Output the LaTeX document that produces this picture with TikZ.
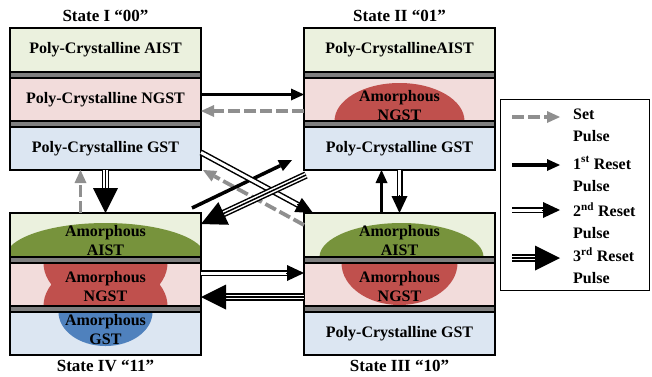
\documentclass[tikz,border=0pt]{standalone}
\usepackage{fontspec}
\setmainfont{Liberation Serif}
\usetikzlibrary{positioning,calc,arrows.meta}

\definecolor{aistbg}{HTML}{EBF1DE}
\definecolor{ngstbg}{HTML}{F2DCDB}
\definecolor{gstbg}{HTML}{DCE6F2}
\definecolor{amgreen}{HTML}{77933C}
\definecolor{amred}{HTML}{C0504D}
\definecolor{amblue}{HTML}{4F81BD}
\definecolor{sepgray}{HTML}{7F7F7F}
\definecolor{setgray}{HTML}{8F8F8F}

\tikzset{
  slab/.style={draw, line width=1.1pt, minimum width=191pt, inner sep=0pt, outer sep=0pt,
    font=\bfseries\fontsize{16}{19}\selectfont, align=center},
  aist/.style={slab, fill=aistbg, minimum height=44pt},
  ngst/.style={slab, fill=ngstbg, minimum height=43pt},
  gst/.style={slab, fill=gstbg, minimum height=43pt},
  sepbar/.style={slab, fill=sepgray, minimum height=6pt, line width=1.4pt},
  txt/.style={font=\bfseries\fontsize{16}{19}\selectfont, align=center, inner sep=0pt},
  statename/.style={font=\bfseries\fontsize{17}{20}\selectfont, inner sep=0pt},
  setpulse/.style={draw=setgray, line width=3.8pt, dash pattern=on 12pt off 4pt,
    -{Triangle[length=13pt,width=12pt,line width=0pt]}},
  rstone/.style={line width=3.5pt, -{Triangle[length=13pt,width=12pt,line width=0pt]}},
  rsttwo/.style={line width=1.5pt, double=white, double distance=3pt, shorten >=15pt},
  headtwo/.style={line width=0pt, -{Triangle[length=17pt,width=16pt,line width=0pt]}},
  rstthree/.style={line width=1.5pt, double=white, double distance=4.5pt, shorten >=22pt},
  rstmid/.style={line width=1.5pt, shorten >=22pt},
  headthree/.style={line width=0pt, -{Triangle[length=25pt,width=25pt,line width=0pt]}}
}

\begin{document}
\begin{tikzpicture}[x=1pt,y=-1pt]
\useasboundingbox (0,0) rectangle (652,376);

% State I
\node[aist, anchor=north west] (s1a) at (10,28) {Poly-Crystalline AIST};
\node[sepbar, below=0pt of s1a] (s1x) {};
\node[ngst, below=0pt of s1x] (s1n) {Poly-Crystalline NGST};
\node[sepbar, below=0pt of s1n] (s1y) {};
\node[gst, below=0pt of s1y] (s1g) {Poly-Crystalline GST};
\node[statename, above=6pt of s1a] (t1) {State I “00”};

% State II
\node[aist, anchor=north west] (s2a) at (304,28) {Poly-CrystallineAIST};
\node[sepbar, below=0pt of s2a] (s2x) {};
\node[ngst, below=0pt of s2x,
  path picture={\fill[amred] (path picture bounding box.south) ellipse (65pt and 38pt);}] (s2n) {};
\node[sepbar, below=0pt of s2n] (s2y) {};
\node[gst, below=0pt of s2y] (s2g) {Poly-Crystalline GST};
\node[txt] (s2nt) at ([yshift=-6pt]s2n.center) {Amorphous\\NGST};
\node[statename, above=6pt of s2a] (t2) {State II “01”};

% State IV
\node[aist, anchor=north west,
  path picture={\fill[amgreen] (path picture bounding box.south) ellipse (100pt and 34pt);}] (s4a) at (10,213) {};
\node[sepbar, below=0pt of s4a] (s4x) {};
\node[ngst, below=0pt of s4x,
  path picture={\fill[amred] (path picture bounding box.north) ellipse (62pt and 44pt)
    (path picture bounding box.south) ellipse (62pt and 44pt);}] (s4n) {};
\node[sepbar, below=0pt of s4n] (s4y) {};
\node[gst, below=0pt of s4y,
  path picture={\fill[amblue] (path picture bounding box.north) ellipse (47pt and 34pt);}] (s4g) {};
\node[txt] (s4at) at ([yshift=-6pt]s4a.center) {Amorphous\\AIST};
\node[txt] (s4nt) at ([yshift=-2pt]s4n.center) {Amorphous\\NGST};
\node[txt] (s4gt) at ([yshift=3.5pt]s4g.center) {Amorphous\\GST};
\node[statename, below=5pt of s4g] (t4) {State IV “11”};

% State III
\node[aist, anchor=north west,
  path picture={\fill[amgreen] ([xshift=2pt]path picture bounding box.south) ellipse (82pt and 34pt);}] (s3a) at (304,213) {};
\node[sepbar, below=0pt of s3a] (s3x) {};
\node[ngst, below=0pt of s3x,
  path picture={\fill[amred] (path picture bounding box.north) ellipse (58pt and 42pt);}] (s3n) {};
\node[sepbar, below=0pt of s3n] (s3y) {};
\node[gst, below=0pt of s3y] (s3g) {Poly-Crystalline GST};
\node[txt] (s3at) at ([yshift=-6pt]s3a.center) {Amorphous\\AIST};
\node[txt] (s3nt) at ([yshift=-2pt]s3n.center) {Amorphous\\NGST};
\node[statename, below=5pt of s3g] (t3) {State III “10”};

% legend
\node[draw, line width=1pt, minimum width=149pt, minimum height=191pt, inner sep=0pt,
  outer sep=0pt, anchor=north west] (legend) at (500,99) {};
\node[txt, align=left, anchor=west, font=\bfseries\fontsize{16}{22}\selectfont] (lg1t) at (573,125) {Set\\Pulse};
\node[txt, align=left, anchor=west, font=\bfseries\fontsize{16}{22}\selectfont] (lg2t) at (573,174) {1\textsuperscript{st} Reset\\Pulse};
\node[txt, align=left, anchor=west, font=\bfseries\fontsize{16}{22}\selectfont] (lg3t) at (573,221) {2\textsuperscript{nd} Reset\\Pulse};
\node[txt, align=left, anchor=west, font=\bfseries\fontsize{16}{22}\selectfont] (lg4t) at (573,266) {3\textsuperscript{rd} Reset\\Pulse};
\coordinate (lg1s) at (512,117); \coordinate (lg1e) at (560,117);
\coordinate (lg2s) at (512,165); \coordinate (lg2e) at (560,165);
\coordinate (lg3s) at (512,210); \coordinate (lg3e) at (560,210);
\coordinate (lg4s) at (512,258); \coordinate (lg4e) at (560,258);

% set pulse ends
\coordinate (st1s) at ([yshift=-11.5pt]s2n.west);
\coordinate (st1e) at ([yshift=-11.5pt]s1n.east);
\coordinate (st2s) at ([yshift=10pt]s3a.west);
\coordinate (st2e) at ([xshift=2pt]s1g.south east);
\coordinate (st3s) at ([xshift=-25pt]s4a.north);
\coordinate (st3e) at ([xshift=-25pt]s1g.south);
% 1st reset ends
\coordinate (ra1s) at ([yshift=5pt]s1n.east);
\coordinate (ra1e) at ([yshift=5pt]s2n.west);
\coordinate (ra2s) at ([shift={(-9pt,5pt)}]s4a.north east);
\coordinate (ra2e) at ([shift={(-12pt,10pt)}]s2g.south west);
\coordinate (ra3s) at ([xshift=-18pt]s3a.north);
\coordinate (ra3e) at ([xshift=-18pt]s2g.south);
% 2nd reset ends
\coordinate (rb1s) at ([yshift=-4pt]s1g.east);
\coordinate (rb1e) at ([xshift=9pt]s3a.north west);
\coordinate (rb2s) at ([yshift=11.5pt]s4n.east);
\coordinate (rb2e) at ([yshift=11.5pt]s3n.west);
\coordinate (rb3s) at (s2g.south);
\coordinate (rb3e) at (s3a.north);
% 3rd reset ends
\coordinate (rc1s) at (s1g.south);
\coordinate (rc1e) at (s4a.north);
\coordinate (rc2s) at ([shift={(2pt,-5pt)}]s2g.south west);
\coordinate (rc2e) at ([yshift=11pt]s4a.east);
\coordinate (rc3s) at ([yshift=-12.5pt]s3n.west);
\coordinate (rc3e) at ([yshift=-12.5pt]s4n.east);

\foreach \a/\b in {st1s/st1e, st2s/st2e, st3s/st3e, lg1s/lg1e}
  \draw[setpulse] (\a) -- (\b);
\foreach \a/\b in {ra1s/ra1e, ra2s/ra2e, ra3s/ra3e, lg2s/lg2e}
  \draw[rstone] (\a) -- (\b);
\foreach \a/\b in {rb1s/rb1e, rb2s/rb2e, rb3s/rb3e, lg3s/lg3e} {
  \draw[rsttwo] (\a) -- (\b);
  \draw[headtwo] ($(\b)!18pt!(\a)$) -- (\b);
}
\foreach \a/\b in {rc1s/rc1e, rc2s/rc2e, rc3s/rc3e, lg4s/lg4e} {
  \draw[rstthree] (\a) -- (\b);
  \draw[rstmid] (\a) -- (\b);
  \draw[headthree] ($(\b)!26pt!(\a)$) -- (\b);
}
\end{tikzpicture}
\end{document}
